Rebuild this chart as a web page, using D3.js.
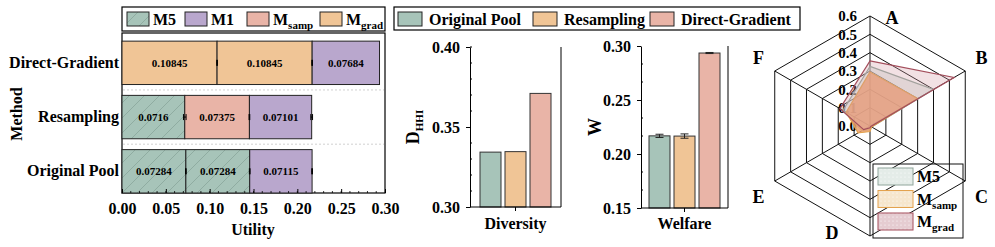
<!DOCTYPE html>
<html>
<head>
<meta charset="utf-8">
<script src="https://cdn.jsdelivr.net/npm/d3@7"></script>
<style>
  body { margin: 0; background: #fff; }
  svg text { font-family: 'Liberation Serif', 'Times New Roman', serif; font-weight: bold; fill: #000; }
</style>
</head>
<body>
<div id="chart"></div>
<script>
// ---- data ----
const methods = ['Original Pool', 'Resampling', 'Direct-Gradient'];   // bottom -> top
const segModels = [['M5', 'M5', 'M1'], ['M5', 'Msamp', 'M1'], ['Mgrad', 'Mgrad', 'M1']];
const segValues = [[0.07284, 0.07284, 0.07115], [0.0716, 0.07375, 0.07101], [0.10845, 0.10845, 0.07684]];
const segErrors = [[0.0004, 0.0004, 0.0004], [0.0015, 0.0004, 0.001], [0.0004, 0.0004, 0]];
const utilTicks = [0, 0.05, 0.10, 0.15, 0.20, 0.25, 0.30];

const poolNames = ['Original Pool', 'Resampling', 'Direct-Gradient'];
const diversity = [0.3343, 0.3346, 0.3710];
const welfare = [0.2168, 0.2166, 0.2935];
const welfareErr = [0.0015, 0.002, 0.0005];
const divTicks = [0.30, 0.35, 0.40];
const welTicks = [0.15, 0.20, 0.25, 0.30];

const radarAxes = ['A', 'B', 'C', 'D', 'E', 'F'];
const radarTicks = [0, 0.1, 0.2, 0.3, 0.4, 0.5, 0.6];
const radarModels = ['M5', 'Msamp', 'Mgrad'];
const radarM5 = [0.325, 0.40, 0.01, 0.02, 0.05, 0.17];
const radarMsamp = [0.295, 0.30, 0.01, 0.03, 0.075, 0.15];
const radarMgrad = [0.355, 0.53, 0.005, 0.01, 0.04, 0.19];

// ---- styles ----
const modelColor = { M5: '#a7c4b9', M1: '#b9a7cd', Msamp: '#e9b4a7', Mgrad: '#f0c596' };
const poolColor = ['#a7c4b9', '#f0c596', '#e9b4a7'];
const radarStroke = { M5: '#8fa59b', Msamp: '#e3a24e', Mgrad: '#a34d5b' };
const radarFill = { M5: '#cfdcd6', Msamp: '#eca06e', Mgrad: '#d49aa5' };
const radarOpacity = { M5: 0.5, Msamp: 0.85, Mgrad: 0.3 };
const swatchFill = { M5: '#e4ece8', Msamp: '#f6e6cd', Mgrad: '#e5ccd1' };

const svg = d3.select('#chart').append('svg').attr('width', 995).attr('height', 247);
const defs = svg.append('defs');
defs.append('pattern').attr('id', 'hatch').attr('patternUnits', 'userSpaceOnUse')
  .attr('width', 15).attr('height', 15)
  .call(p => {
    p.append('rect').attr('width', 15).attr('height', 15).attr('fill', modelColor.M5);
    p.append('path').attr('d', 'M-1,16 L16,-1').attr('stroke', '#7f9c90').attr('stroke-width', 0.6);
  });
Object.keys(radarFill).forEach(k => {
  defs.append('pattern').attr('id', 'dot-' + k).attr('patternUnits', 'userSpaceOnUse')
    .attr('width', 4).attr('height', 4)
    .call(p => {
      p.append('rect').attr('width', 4).attr('height', 4).attr('fill', swatchFill[k]);
      p.append('circle').attr('cx', 1).attr('cy', 1).attr('r', 0.6).attr('fill', '#fff');
    });
});

function fillFor(m) { return m === 'M5' ? 'url(#hatch)' : modelColor[m]; }

// "Msamp" -> M + subscript
function subLabel(sel, name, big, small) {
  if (name === 'Msamp' || name === 'Mgrad') {
    sel.append('tspan').attr('font-size', big).text('M');
    sel.append('tspan').attr('font-size', small).attr('dy', 4).text(name.slice(1));
  } else {
    sel.append('tspan').attr('font-size', big).text(name);
  }
}

// ================= left: stacked utility bars =================
const x = d3.scaleLinear().domain([0, 0.3]).range([122, 385]);
const y = d3.scaleLinear().domain([-0.4, 2.55]).range([193, 33]);
const left = svg.append('g');

left.append('rect').attr('x', 122).attr('y', 33).attr('width', 263).attr('height', 160)
  .attr('fill', 'none').attr('stroke', '#000').attr('stroke-width', 1.2);
[0.5, 1.5].forEach(v => {
  left.append('line').attr('x1', 123).attr('x2', 384).attr('y1', y(v)).attr('y2', y(v))
    .attr('stroke', '#d0d0d0').attr('stroke-dasharray', '2,2');
});

methods.forEach((m, i) => {
  let acc = 0;
  segValues[i].forEach((v, j) => {
    const x0 = x(acc), x1 = x(acc + v);
    left.append('rect').attr('x', x0).attr('y', y(i + 0.4)).attr('width', x1 - x0)
      .attr('height', y(i - 0.4) - y(i + 0.4))
      .attr('fill', fillFor(segModels[i][j])).attr('stroke', '#222').attr('stroke-width', 1);
    left.append('text').attr('x', (x0 + x1) / 2).attr('y', y(i) + 4).attr('text-anchor', 'middle')
      .attr('font-size', 11).text(v);
    acc += v;
  });
});
// error marks at segment ends
methods.forEach((m, i) => {
  let acc = 0;
  segValues[i].forEach((v, j) => {
    acc += v;
    const e = segErrors[i][j];
    if (!e) return;
    const g = left.append('g').attr('stroke', '#000').attr('stroke-width', 1);
    g.append('line').attr('x1', x(acc - e)).attr('x2', x(acc + e)).attr('y1', y(i)).attr('y2', y(i));
    [acc - e, acc + e].forEach(c => g.append('line').attr('x1', x(c)).attr('x2', x(c))
      .attr('y1', y(i) - 3).attr('y2', y(i) + 3));
  });
});

const xAxis = d3.axisBottom(x).tickValues(utilTicks).tickFormat(d3.format('.2f'))
  .tickSize(-4).tickPadding(10).tickSizeOuter(0);
const xg = left.append('g').attr('transform', 'translate(0,193)').call(xAxis);
xg.select('.domain').remove();
xg.selectAll('text').attr('font-size', 16);
xg.selectAll('line').attr('stroke', '#000');
left.append('g').selectAll('line').data(d3.range(0.01, 0.3, 0.01)).join('line')
  .attr('x1', d => x(d)).attr('x2', d => x(d)).attr('y1', 193).attr('y2', 191)
  .attr('stroke', '#000').attr('stroke-width', 0.8);

methods.forEach((m, i) => {
  left.append('text').attr('x', 119).attr('y', y(i) + 5).attr('text-anchor', 'end')
    .attr('font-size', 16).text(m);
});
left.append('text').attr('transform', 'translate(22,114) rotate(-90)').attr('text-anchor', 'middle')
  .attr('font-size', 16).text('Method');
left.append('text').attr('x', 253).attr('y', 235).attr('text-anchor', 'middle')
  .attr('font-size', 16).text('Utility');

const leg1 = left.append('g');
leg1.append('rect').attr('x', 122).attr('y', 7).attr('width', 263).attr('height', 24)
  .attr('fill', '#fff').attr('stroke', '#000').attr('stroke-width', 1.2);
const legModels = ['M5', 'M1', 'Msamp', 'Mgrad'];
const legX = [127, 185, 247, 320];
legModels.forEach((m, k) => {
  leg1.append('rect').attr('x', legX[k]).attr('y', 12).attr('width', 22).attr('height', 14)
    .attr('fill', fillFor(m)).attr('stroke', '#222');
  leg1.append('text').attr('x', legX[k] + 26).attr('y', 25).call(s => subLabel(s, m, 16, 11));
});

// ================= middle: diversity & welfare =================
const mid = svg.append('g');
mid.append('rect').attr('x', 394).attr('y', 7).attr('width', 406).attr('height', 23)
  .attr('fill', '#fff').attr('stroke', '#000').attr('stroke-width', 1.2);
const leg2X = [398, 533, 650];
poolNames.forEach((p, k) => {
  mid.append('rect').attr('x', leg2X[k]).attr('y', 12).attr('width', 24).attr('height', 14)
    .attr('fill', poolColor[k]).attr('stroke', '#222');
  mid.append('text').attr('x', leg2X[k] + 31).attr('y', 25).attr('font-size', 16).text(p);
});

function barPanel(cfg) {
  const g = svg.append('g');
  const bx = d3.scaleBand().domain(poolNames).range([cfg.x0, cfg.x1])
    .paddingInner(0.16).paddingOuter(cfg.po);
  const by = d3.scaleLinear().domain(cfg.domain).range([cfg.yb, cfg.yt]);
  g.selectAll('rect.bar').data(cfg.values).join('rect').attr('class', 'bar')
    .attr('x', (d, i) => bx(poolNames[i])).attr('width', bx.bandwidth())
    .attr('y', d => by(d)).attr('height', d => by(cfg.domain[0]) - by(d))
    .attr('fill', (d, i) => poolColor[i]).attr('stroke', '#333').attr('stroke-width', 1);
  if (cfg.errors) {
    cfg.values.forEach((v, i) => {
      const cx = bx(poolNames[i]) + bx.bandwidth() / 2, e = cfg.errors[i];
      const eg = g.append('g').attr('stroke', '#222').attr('stroke-width', 1);
      eg.append('line').attr('x1', cx).attr('x2', cx).attr('y1', by(v - e)).attr('y2', by(v + e));
      [v - e, v + e].forEach(c => eg.append('line').attr('x1', cx - 4).attr('x2', cx + 4)
        .attr('y1', by(c)).attr('y2', by(c)));
    });
  }
  const ya = d3.axisLeft(by).tickValues(cfg.ticks).tickFormat(d3.format('.2f'))
    .tickSize(4).tickPadding(6).tickSizeOuter(0);
  const yg = g.append('g').attr('transform', `translate(${cfg.x0},0)`).call(ya);
  yg.selectAll('text').attr('font-size', 16);
  yg.selectAll('line, path').attr('stroke', '#000');
  g.selectAll('line.minor').data(cfg.minor).join('line').attr('class', 'minor')
    .attr('x1', cfg.x0).attr('x2', cfg.x0 + 2).attr('y1', d => by(d)).attr('y2', d => by(d))
    .attr('stroke', '#000');
  g.append('line').attr('x1', cfg.x0).attr('x2', cfg.x1).attr('y1', cfg.yb).attr('y2', cfg.yb).attr('stroke', '#000');
  g.append('line').attr('x1', cfg.x1).attr('x2', cfg.x1).attr('y1', cfg.yt).attr('y2', cfg.yb).attr('stroke', '#000');
  const mx = (cfg.x0 + cfg.x1) / 2;
  g.append('line').attr('x1', mx).attr('x2', mx).attr('y1', cfg.yb).attr('y2', cfg.yb + 4).attr('stroke', '#000');
  g.append('text').attr('x', mx).attr('y', 229).attr('text-anchor', 'middle').attr('font-size', 16).text(cfg.label);
  const t = g.append('text').attr('transform', `translate(${cfg.titleX},${(cfg.yt + cfg.yb) / 2}) rotate(-90)`)
    .attr('text-anchor', 'middle');
  t.append('tspan').attr('font-size', 18).text(cfg.title[0]);
  if (cfg.title[1]) t.append('tspan').attr('font-size', 11).attr('dy', 4).text(cfg.title[1]);
}

barPanel({ x0: 470, x1: 561, po: 0.4, yt: 47, yb: 207, domain: [0.30, 0.40], values: diversity,
  ticks: divTicks, minor: d3.range(0.31, 0.40, 0.01).filter(d => Math.abs(d - 0.35) > 0.001),
  label: 'Diversity', title: ['D', 'HHI'], titleX: 419 });
barPanel({ x0: 641, x1: 728, po: 0.32, yt: 46, yb: 208, domain: [0.15, 0.30], values: welfare,
  errors: welfareErr, ticks: welTicks,
  minor: d3.range(0, 9).map(k => 0.15 + k * 0.05 / 3).filter((d, k) => k % 3 !== 0),
  label: 'Welfare', title: ['W'], titleX: 601 });

// ================= right: radar =================
const cx = 870, cy = 126;
const r = d3.scaleLinear().domain([0, 0.6]).range([0, 110]);
const ang = i => i * Math.PI / 3;
const pt = (i, v) => [cx + r(v) * Math.sin(ang(i)), cy - r(v) * Math.cos(ang(i))];
const rad = svg.append('g');

radarTicks.slice(1).forEach(t => {
  rad.append('path').attr('d', d3.line()(radarAxes.map((a, i) => pt(i, t))) + 'Z')
    .attr('fill', 'none').attr('stroke', '#111').attr('stroke-width', 1);
});
radarAxes.forEach((a, i) => {
  const [px, py] = pt(i, 0.6);
  rad.append('line').attr('x1', cx).attr('y1', cy).attr('x2', px).attr('y2', py)
    .attr('stroke', '#111').attr('stroke-width', 1);
});
radarTicks.forEach(t => {
  rad.append('text').attr('x', 857).attr('y', cy - r(t)).attr('dy', '0.35em')
    .attr('text-anchor', 'end').attr('font-size', 15).text(t.toFixed(1));
});
const labelShift = [[22, 20], [0, -4], [0, 6], [-38, -22], [0, 6], [0, -4]];
radarAxes.forEach((a, i) => {
  const [px, py] = pt(i, 0.6 * 1.17);
  rad.append('text').attr('x', px + labelShift[i][0]).attr('y', py + labelShift[i][1])
    .attr('dy', '0.35em').attr('text-anchor', 'middle').attr('font-size', 18).text(a);
});

const radarSeries = { M5: radarM5, Msamp: radarMsamp, Mgrad: radarMgrad };
radarModels.forEach(m => {
  rad.append('path').attr('d', d3.line()(radarSeries[m].map((v, i) => pt(i, v))) + 'Z')
    .attr('fill', radarFill[m]).attr('fill-opacity', radarOpacity[m])
    .attr('stroke', radarStroke[m]).attr('stroke-width', 1.2);
});

rad.append('rect').attr('x', 873).attr('y', 164).attr('width', 90).attr('height', 74)
  .attr('fill', 'none').attr('stroke', '#111');
radarModels.forEach((m, k) => {
  const yy = 168 + k * 22.5;
  rad.append('rect').attr('x', 878).attr('y', yy).attr('width', 35).attr('height', 17)
    .attr('fill', `url(#dot-${m})`).attr('stroke', radarStroke[m]);
  rad.append('text').attr('x', 917).attr('y', yy + 14).call(s => subLabel(s, m, 16, 11));
});
</script>
</body>
</html>
